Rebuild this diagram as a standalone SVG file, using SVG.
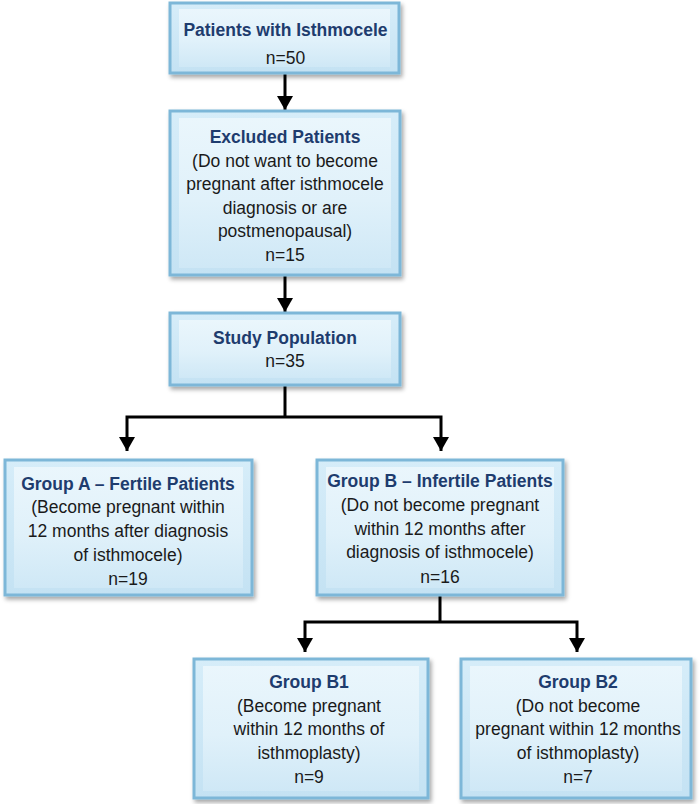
<svg xmlns="http://www.w3.org/2000/svg" width="700" height="804" viewBox="0 0 700 804">
<defs>
<linearGradient id="gOuter" x1="0" y1="0" x2="0" y2="1">
<stop offset="0" stop-color="#d6edf9"/>
<stop offset="1" stop-color="#c4e2f3"/>
</linearGradient>
<linearGradient id="gInner" x1="0" y1="0" x2="0" y2="1">
<stop offset="0" stop-color="#eaf6fc"/>
<stop offset="0.55" stop-color="#e0f1fa"/>
<stop offset="1" stop-color="#cfe8f6"/>
</linearGradient>
<filter id="sh" x="-10%" y="-10%" width="125%" height="130%">
<feDropShadow dx="2" dy="3" stdDeviation="2" flood-color="#000" flood-opacity="0.35"/>
</filter>
<marker id="ah" markerUnits="userSpaceOnUse" markerWidth="14" markerHeight="16" refX="14" refY="8" orient="auto-start-reverse" viewBox="0 0 14 16">
<path d="M0,0 L14,8 L0,16 Z" fill="#000"/>
</marker>
</defs>
<style>
.box{fill:url(#gOuter);stroke:#7db7d8;stroke-width:3;filter:url(#sh)}
.inner{fill:url(#gInner);stroke:none}
.t{font-family:"Liberation Sans",Arial,sans-serif;font-size:17.5px;text-anchor:middle;fill:#1a1a1a}
.h{font-weight:bold;fill:#1e3c6e}
.c{fill:none;stroke:#000;stroke-width:3}
</style>
<rect width="700" height="804" fill="#fff"/>
<g id="connectors">
<line class="c" x1="285" y1="73" x2="285" y2="110" marker-end="url(#ah)"/>
<line class="c" x1="285" y1="275" x2="285" y2="312" marker-end="url(#ah)"/>
<polyline class="c" points="285,385 285,417"/>
<polyline class="c" points="127,451 127,417 441,417 441,451" marker-start="url(#ah)" marker-end="url(#ah)"/>
<polyline class="c" points="440,595 440,622"/>
<polyline class="c" points="305,652 305,622 577,622 577,652" marker-start="url(#ah)" marker-end="url(#ah)"/>
</g>
<g id="n1">
<rect class="box" x="170" y="3" width="229" height="70"/>
<rect class="inner" x="179" y="9" width="211" height="58"/>
<text class="t h" x="285.5" y="36">Patients with Isthmocele</text>
<text class="t" x="285.5" y="64">n=50</text>
</g>
<g id="n2">
<rect class="box" x="170" y="111" width="230" height="164"/>
<rect class="inner" x="179" y="118" width="212" height="150"/>
<text class="t h" x="285" y="143">Excluded Patients</text>
<text class="t" x="285" y="166.5">(Do not want to become</text>
<text class="t" x="285" y="190">pregnant after isthmocele</text>
<text class="t" x="285" y="213.5">diagnosis or are</text>
<text class="t" x="285" y="237">postmenopausal)</text>
<text class="t" x="285" y="261">n=15</text>
</g>
<g id="n3">
<rect class="box" x="170" y="313" width="230" height="72"/>
<rect class="inner" x="179" y="320" width="212" height="58"/>
<text class="t h" x="285" y="344">Study Population</text>
<text class="t" x="285" y="367">n=35</text>
</g>
<g id="nA">
<rect class="box" x="5" y="460" width="247" height="135"/>
<rect class="inner" x="14" y="467" width="229" height="121"/>
<text class="t h" x="128" y="490">Group A – Fertile Patients</text>
<text class="t" x="128" y="513">(Become pregnant within</text>
<text class="t" x="128" y="537">12 months after diagnosis</text>
<text class="t" x="128" y="560.5">of isthmocele)</text>
<text class="t" x="128" y="584.5">n=19</text>
</g>
<g id="nB">
<rect class="box" x="317" y="460" width="246" height="135"/>
<rect class="inner" x="326" y="467" width="228" height="121"/>
<text class="t h" x="440" y="486.5">Group B – Infertile Patients</text>
<text class="t" x="440" y="510.5">(Do not become pregnant</text>
<text class="t" x="440" y="534.5">within 12 months after</text>
<text class="t" x="440" y="558">diagnosis of isthmocele)</text>
<text class="t" x="440" y="582.5">n=16</text>
</g>
<g id="nB1">
<rect class="box" x="194" y="659" width="234" height="139"/>
<rect class="inner" x="203" y="666" width="216" height="125"/>
<text class="t h" x="309" y="688">Group B1</text>
<text class="t" x="309" y="711.5">(Become pregnant</text>
<text class="t" x="309" y="735">within 12 months of</text>
<text class="t" x="309" y="758.5">isthmoplasty)</text>
<text class="t" x="309" y="782.5">n=9</text>
</g>
<g id="nB2">
<rect class="box" x="461" y="659" width="230" height="139"/>
<rect class="inner" x="470" y="666" width="212" height="125"/>
<text class="t h" x="578" y="688">Group B2</text>
<text class="t" x="578" y="711.5">(Do not become</text>
<text class="t" x="578" y="735">pregnant within 12 months</text>
<text class="t" x="578" y="758.5">of isthmoplasty)</text>
<text class="t" x="578" y="782.5">n=7</text>
</g>
</svg>
